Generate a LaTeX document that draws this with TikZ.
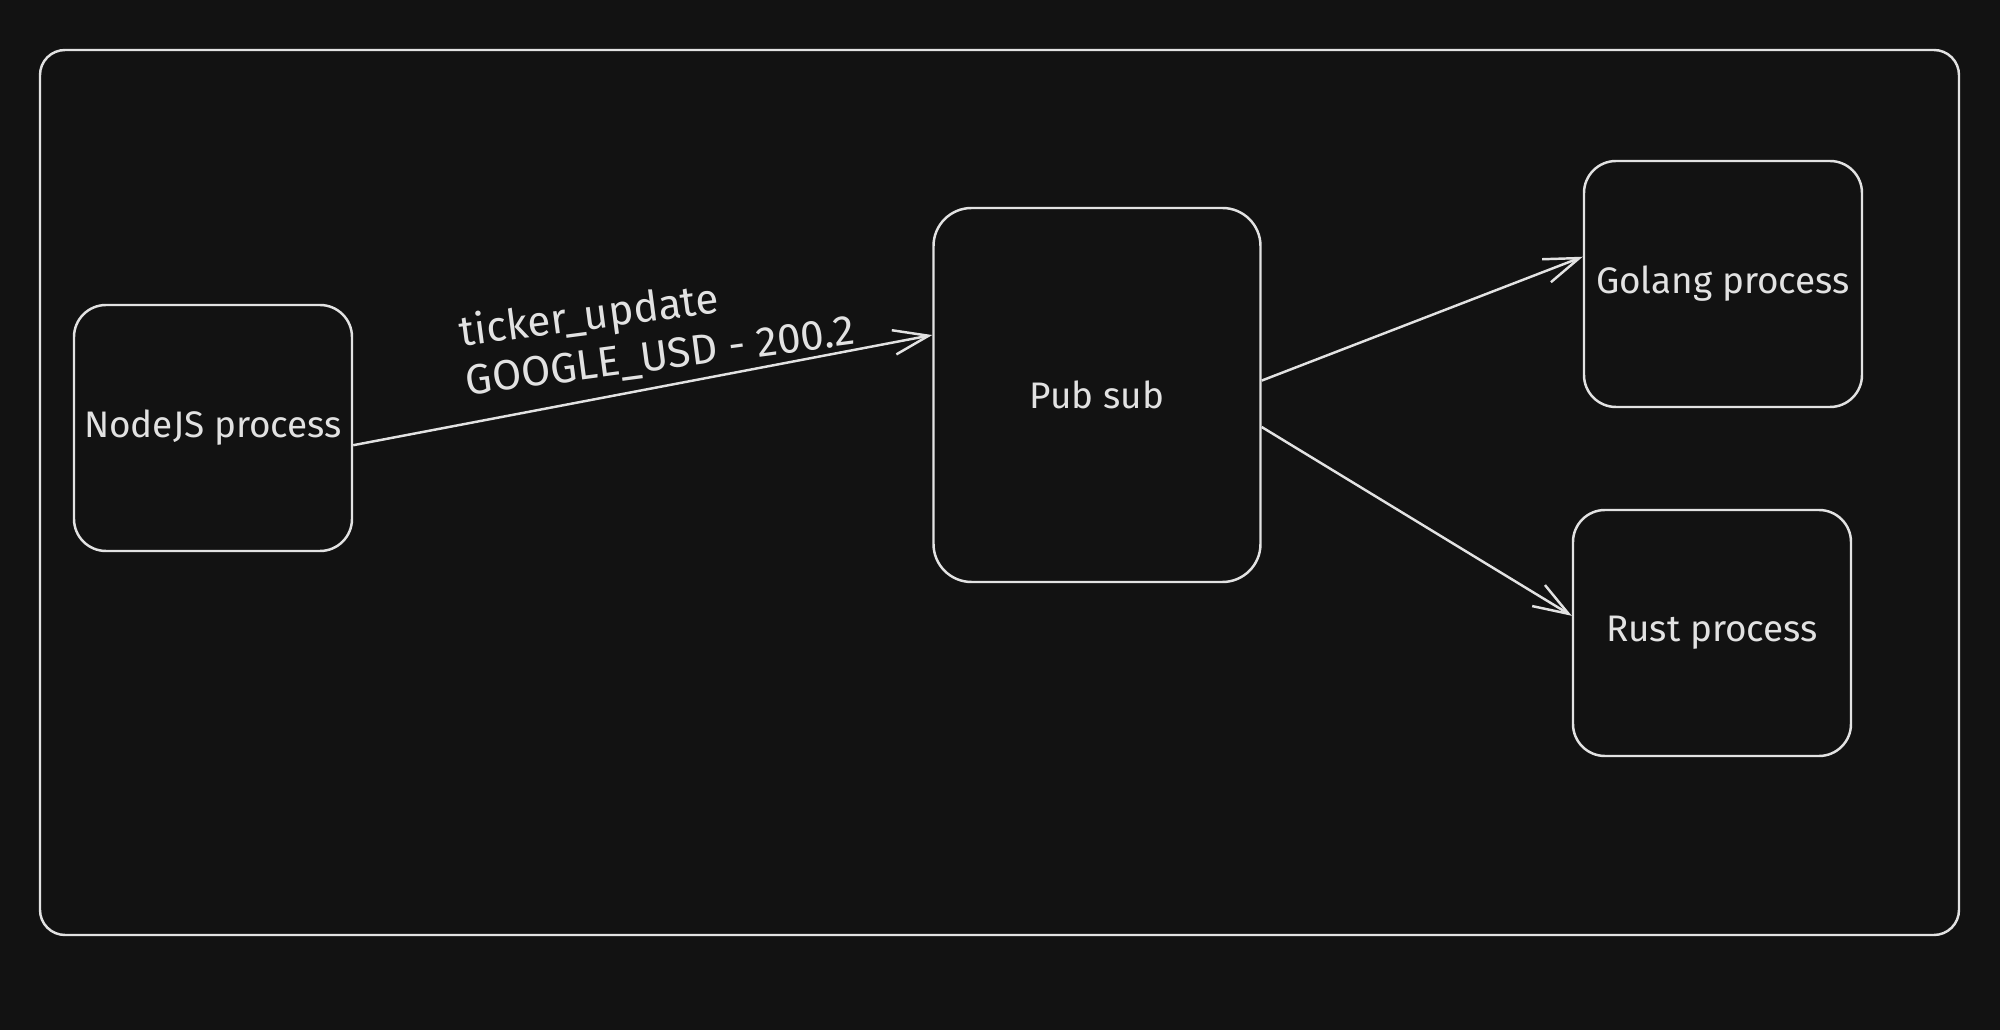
\documentclass[tikz,border=0pt]{standalone}
\usepackage{fontspec}
\setmainfont{Fira Sans}
\usepackage{tikz}
\usetikzlibrary{arrows.meta,positioning}
\definecolor{CanvasDark}{RGB}{18,18,18}
\definecolor{InkLight}{RGB}{226,226,226}

\begin{document}
\begin{tikzpicture}[x=0.1mm, y=-0.1mm,
  proc/.style={draw=InkLight, line width=0.7pt, rounded corners=3.2mm, minimum width=27.8mm, minimum height=24.6mm, inner sep=0pt, text=InkLight, font=\fontsize{10.5}{12}\selectfont},
  link/.style={draw=InkLight, line width=0.7pt, -{Straight Barb[length=10pt,width=7pt]}}]
  % Canvas and outer frame
  \fill[CanvasDark] (0,0) rectangle (2000,1030);
  \node[draw=InkLight, line width=0.7pt, rounded corners=2.5mm, minimum width=191.9mm, minimum height=88.5mm, inner sep=0pt] (frame) at (999.5,492.5) {};

  % Processes
  \node[proc] (nodejs) at (213,428) {NodeJS process};
  \node[proc, minimum width=32.7mm, minimum height=37.4mm, rounded corners=3.8mm] (pubsub) at (1097,395) {Pub sub};
  \node[proc] (golang) at (1723,284) {Golang process};
  \node[proc] (rust) at (1712,633) {Rust process};

  % Publish arrow with its message
  \draw[link] (nodejs.-7) -- (pubsub.160);
  \node[rotate=7.5, align=left, text=InkLight, font=\fontsize{12}{14}\selectfont] (msg) at (657,332) {ticker\_update\\GOOGLE\_USD - 200.2};

  % Fan out to subscribers
  \draw[link] (pubsub.5) -- (golang.169);
  \draw[link] (pubsub.-11) -- (rust.173);
\end{tikzpicture}
\end{document}
